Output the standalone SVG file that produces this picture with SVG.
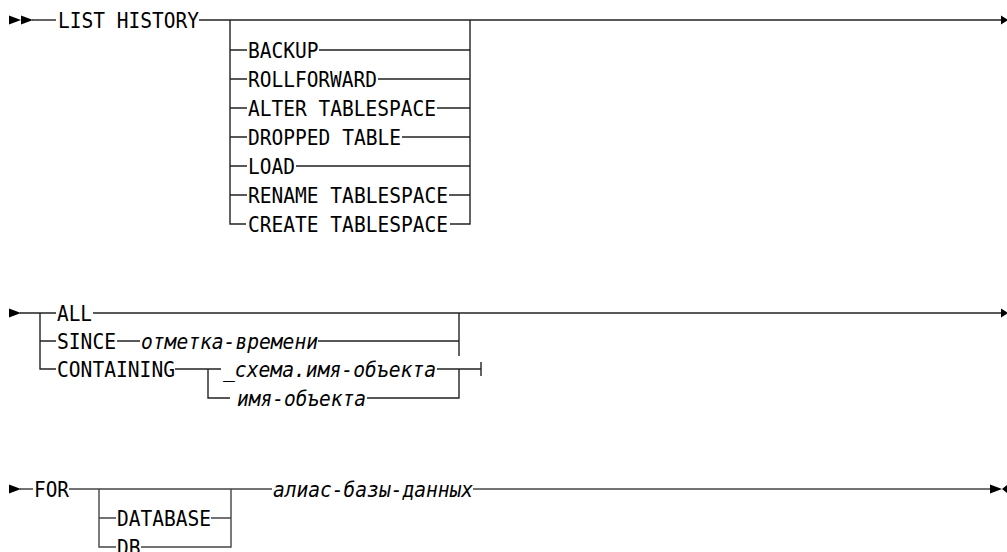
<svg xmlns="http://www.w3.org/2000/svg" width="1007" height="552" viewBox="0 0 1007 552">
<style>
.kw{font-family:"DejaVu Sans Mono","Liberation Mono",monospace;font-size:21px;fill:#000}
.var{font-family:"DejaVu Sans Mono","Liberation Mono",monospace;font-size:21px;font-style:italic;fill:#000}
.ln{fill:none;stroke:#222;stroke-width:1.4}
.ln3{fill:none;stroke:#444;stroke-width:1.4}
.ar{fill:#000}
</style>
<rect width="1007" height="552" fill="#fff"/>
<g id="connectors">
  <!-- row 1 -->
  <path class="ln" d="M32,20 H56"/>
  <path class="ln" d="M199,20 H1002"/>
  <path class="ln" d="M230,20 V224 H246"/>
  <path class="ln" d="M230,50 H247 M230,79 H247 M230,108 H247 M230,137 H247 M230,166 H247 M230,195 H247"/>
  <path class="ln" d="M470,20 V224 H450"/>
  <path class="ln" d="M319,50 H470 M378,79 H470 M437,108 H470 M402,137 H470 M296,166 H470 M449,195 H470"/>
  <!-- row 2 -->
  <path class="ln" d="M20,313 H56 M40,313 V369 H56 M40,341 H56"/>
  <path class="ln" d="M93,313 H1002"/>
  <path class="ln" d="M117,341 H140 M318,341 H459"/>
  <path class="ln" d="M459,313 V356"/>
  <path class="ln" d="M175,369 H221"/>
  <path class="ln" d="M208,369 V398 H230"/>
  <path class="ln" d="M437,369 H481 M481,362 V376"/>
  <path class="ln" d="M367,398 H459 V369"/>
  <!-- row 3 -->
  <path class="ln3" d="M20,489 H33 M69,489 H272"/>
  <path class="ln3" d="M99,489 V547 H116 M99,518 H116"/>
  <path class="ln3" d="M211,518 H231 M141,547 H231 V489"/>
  <path class="ln3" d="M473,489 H991"/>
  <!-- arrowheads -->
  <path class="ar" d="M9,15.5 L21,20 L9,24.5 Z M21,15.5 L33,20 L21,24.5 Z"/>
  <path class="ar" d="M1001,15.5 L1008,20 L1001,24.5 Z"/>
  <path class="ar" d="M9,308.5 L21,313 L9,317.5 Z"/>
  <path class="ar" d="M1001,308.5 L1008,313 L1001,317.5 Z"/>
  <path class="ar" d="M9,484.5 L21,489 L9,493.5 Z"/>
  <path class="ar" d="M990,484.5 L1002,489 L990,493.5 Z M1007,485 L1002,489 L1007,493 Z"/>
</g>
<g id="list-history"><text class="kw" x="58" y="27.5" textLength="141" lengthAdjust="spacingAndGlyphs">LIST HISTORY</text></g>
<g id="backup"><text class="kw" x="248" y="57.5" textLength="70.5" lengthAdjust="spacingAndGlyphs">BACKUP</text></g>
<g id="rollforward"><text class="kw" x="248" y="86.5" textLength="129" lengthAdjust="spacingAndGlyphs">ROLLFORWARD</text></g>
<g id="alter-tablespace"><text class="kw" x="248" y="115.5" textLength="188" lengthAdjust="spacingAndGlyphs">ALTER TABLESPACE</text></g>
<g id="dropped-table"><text class="kw" x="248" y="144.5" textLength="153" lengthAdjust="spacingAndGlyphs">DROPPED TABLE</text></g>
<g id="load"><text class="kw" x="248" y="173.5" textLength="47" lengthAdjust="spacingAndGlyphs">LOAD</text></g>
<g id="rename-tablespace"><text class="kw" x="248" y="202.5" textLength="200" lengthAdjust="spacingAndGlyphs">RENAME TABLESPACE</text></g>
<g id="create-tablespace"><text class="kw" x="248" y="231.5" textLength="200" lengthAdjust="spacingAndGlyphs">CREATE TABLESPACE</text></g>
<g id="all"><text class="kw" x="57" y="320.5" textLength="35" lengthAdjust="spacingAndGlyphs">ALL</text></g>
<g id="since"><text class="kw" x="57" y="348.5" textLength="59" lengthAdjust="spacingAndGlyphs">SINCE</text></g>
<g id="timestamp"><text class="var" x="141" y="348.5" textLength="177" lengthAdjust="spacingAndGlyphs">отметка-времени</text></g>
<g id="containing"><text class="kw" x="57" y="376.5" textLength="118" lengthAdjust="spacingAndGlyphs">CONTAINING</text></g>
<g id="schema-object"><text class="var" x="223" y="376.5" textLength="213" lengthAdjust="spacingAndGlyphs">_схема.имя-объекта</text></g>
<g id="object-name"><text class="var" x="237" y="405.5" textLength="129" lengthAdjust="spacingAndGlyphs">имя-объекта</text></g>
<g id="for"><text class="kw" x="34" y="496.5" textLength="35" lengthAdjust="spacingAndGlyphs">FOR</text></g>
<g id="database"><text class="kw" x="117" y="525.5" textLength="94" lengthAdjust="spacingAndGlyphs">DATABASE</text></g>
<g id="db"><text class="kw" x="117" y="554.5" textLength="23.5" lengthAdjust="spacingAndGlyphs">DB</text></g>
<g id="db-alias"><text class="var" x="273" y="496.5" textLength="200" lengthAdjust="spacingAndGlyphs">алиас-базы-данных</text></g>
</svg>
